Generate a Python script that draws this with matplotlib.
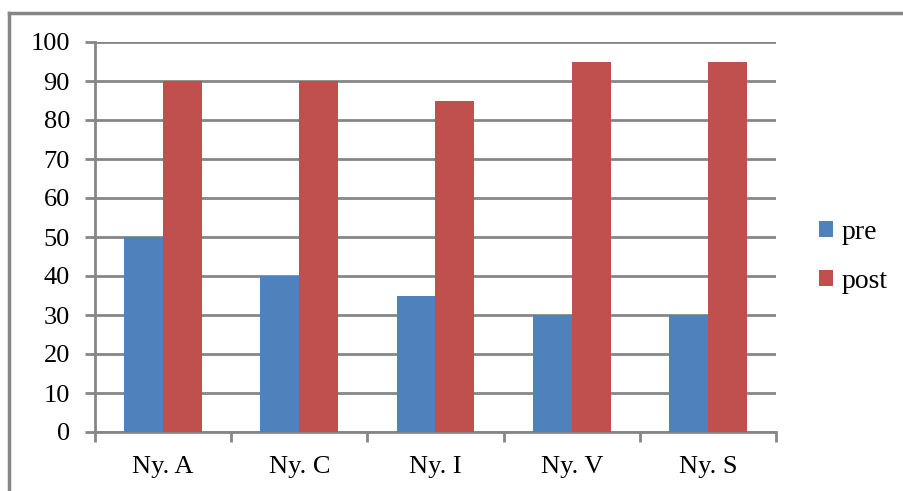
import matplotlib.pyplot as plt
import numpy as np
from matplotlib.lines import Line2D
from matplotlib.ticker import FixedLocator

categories = ['Ny. A', 'Ny. C', 'Ny. I', 'Ny. V', 'Ny. S']
pre = [50, 40, 35, 30, 30]
post = [90, 90, 85, 95, 95]
yticks = list(range(0, 101, 10))

blue = '#4F81BD'
red = '#C0504D'
grey = '#868686'

plt.rcParams['font.family'] = ['Liberation Serif', 'DejaVu Serif']

fig = plt.figure(figsize=(9.04, 4.91), dpi=100)
ax = fig.add_axes([95 / 904, 59 / 491, 681 / 904, 390 / 491])

x = np.arange(len(categories))
w = 1 / 3.5
ax.bar(x - w / 2, pre, w, color=blue, label='pre', zorder=3)
ax.bar(x + w / 2, post, w, color=red, label='post', zorder=3)

ax.set_xlim(-0.5, len(categories) - 0.5)
ax.set_ylim(0, 100)
ax.set_yticks(yticks)
ax.yaxis.grid(True, color=grey, linewidth=2, zorder=0)

# category boundaries get the tick marks, names sit in between
ax.xaxis.set_major_locator(FixedLocator(np.arange(len(categories) + 1) - 0.5))
ax.xaxis.set_minor_locator(FixedLocator(x))
ax.set_xticklabels([], minor=False)
ax.set_xticklabels(categories, minor=True)
ax.tick_params(axis='x', which='major', length=7, width=2, color=grey)
ax.tick_params(axis='x', which='minor', length=0, pad=17, labelsize=19)
ax.tick_params(axis='y', length=7, width=2, color=grey, pad=11, labelsize=19)

for side in ['top', 'right']:
    ax.spines[side].set_visible(False)
for side in ['left', 'bottom']:
    ax.spines[side].set_color(grey)
    ax.spines[side].set_linewidth(2)

fig.legend(loc='center left', bbox_to_anchor=(819 / 904, 1 - 257 / 491),
           frameon=False, fontsize=20, handlelength=0.5, handleheight=0.5,
           handletextpad=0.3, labelspacing=0.85, borderpad=0, borderaxespad=0)

# outer chart frame
fig.add_artist(Line2D([9 / 904, 1.01], [1 - 13 / 491] * 2, color=grey, lw=2.5,
                      transform=fig.transFigure))
fig.add_artist(Line2D([9 / 904] * 2, [-0.01, 1 - 13 / 491], color=grey, lw=2.5,
                      transform=fig.transFigure))

fig.savefig('out.png', dpi=100)
